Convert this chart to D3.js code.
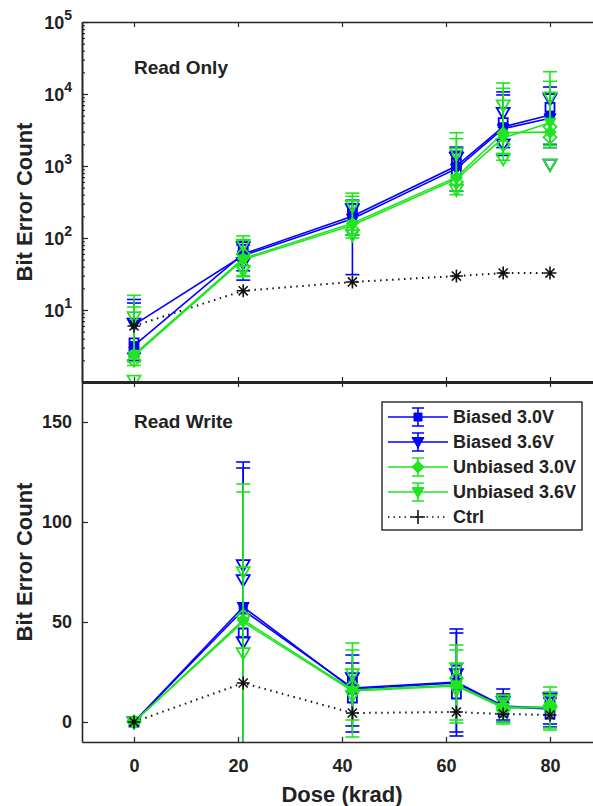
<!DOCTYPE html>
<html>
<head>
<meta charset="utf-8">
<script src="https://cdn.jsdelivr.net/npm/d3@7"></script>
<style>
  body { margin: 0; background: #fff; }
  text { font-family: "Liberation Sans", Arial, sans-serif; font-weight: bold; fill: #222; }
</style>
</head>
<body>
<div id="chart"></div>
<script>
// dose points (slightly offset from nominal, as in the figure)
var doses = [0, 21, 42, 62, 71, 80];
var seriesNames = ["Biased 3.0V", "Biased 3.6V", "Unbiased 3.0V", "Unbiased 3.6V"];
var ctrlName = "Ctrl";
var xTicks = [0, 20, 40, 60, 80];
var roTicks = [10, 100, 1000, 10000, 100000];
var rwTicks = [0, 50, 100, 150];

// Read Only: means, error bar ends, per series
var roMean = [
  [3.2, 60, 200, 1000, 3500, 5100],
  [6.2, 57, 185, 920, 3300, 4600],
  [2.4, 52, 160, 700, 2900, 2950],
  [2.3, 50, 150, 660, 2450, 4000]
];
var roLo = [
  [2.0, 26, 31, 450, 1400, 1800],
  [2.5, 35, 110, 550, 1800, 2000],
  [1.7, 29, 110, 400, 1500, 1950],
  [1.9, 30, 100, 450, 1200, 1800]
];
var roHi = [
  [12.5, 88, 335, 1830, 10700, 12500],
  [14, 80, 300, 1600, 9700, 10000],
  [16, 107, 420, 2900, 14200, 20400],
  [11, 95, 380, 2400, 12000, 15000]
];
var roCtrl = [6.0, 18.5, 24.5, 29.6, 32.6, 32.6];
// individual devices [dose, count]
var roSamples = [
  [[0, 3.5], [0, 2.6], [21, 70], [42, 220], [62, 1100], [62, 800], [71, 4000], [80, 6500]],
  [[0, 6.5], [21, 75], [21, 45], [42, 250], [62, 1300], [71, 5500], [71, 2000], [80, 8500], [80, 1050]],
  [[0, 2.0], [21, 60], [21, 40], [42, 130], [62, 600], [71, 2000], [80, 3500], [80, 2500]],
  [[0, 8], [0, 1.05], [21, 80], [21, 35], [42, 280], [42, 110], [62, 1500], [62, 470], [71, 7000], [71, 1250], [80, 9000], [80, 1050]]
];

// Read Write
var rwMean = [
  [0, 56, 17, 20, 8, 7],
  [0, 57.5, 16.5, 19.5, 7.5, 6.5],
  [0, 51, 16, 18.5, 7.5, 7],
  [0, 50, 15.5, 18, 7, 7.5]
];
var rwLo = [
  [0, -20, -2, -7, 1, -2.5],
  [0, -15, -5, -5, 0, -1],
  [0, -25, -7.5, -0.5, -1, -4],
  [0, -20, 1, 1, 0, -3]
];
var rwHi = [
  [0.5, 130, 33.5, 46.5, 16.5, 13.5],
  [0.5, 127, 29.5, 44.5, 14, 12],
  [0.5, 119, 39.5, 38.5, 12, 17.5],
  [0.5, 115, 36, 36, 11, 15]
];
var rwCtrl = [0, 19.5, 4.5, 5, 4, 3.5];
var rwSamples = [
  [[0, 0], [21, 44.5], [42, 20], [42, 12], [62, 26], [62, 14], [71, 9], [71, 5], [80, 10], [80, 4]],
  [[0, 0], [21, 78.5], [21, 71], [21, 40], [42, 22], [62, 24], [71, 10], [80, 12]],
  [[0, 0], [21, 53], [42, 18], [62, 22], [71, 6], [80, 8]],
  [[0, 0], [21, 75], [21, 34.5], [42, 24], [42, 13], [62, 27], [62, 16], [71, 11], [71, 5], [80, 11], [80, 5]]
];

var colors = ["#0000ff", "#0000ff", "#1fe61f", "#1fe61f"];
var markers = ["square", "tri", "diamond", "tri"];

var width = 593, height = 806;
var svg = d3.select("#chart").append("svg")
  .attr("width", width).attr("height", height);

var x = d3.scaleLinear().domain([-10, 90]).range([82, 602]);
var yTop = d3.scaleLog().domain([1, 1e5]).range([382, 22]);
var yBot = d3.scaleLinear().domain([-10, 170]).range([742, 382]);

function markerPath(type, r) {
  if (type == "square") return "M" + (-r) + "," + (-r) + "H" + r + "V" + r + "H" + (-r) + "Z";
  if (type == "tri") return "M" + (-r) + "," + (-r * 0.75) + "H" + r + "L0," + r + "Z";
  if (type == "diamond") return "M0," + (-r) + "L" + r + ",0L0," + r + "L" + (-r) + ",0Z";
  if (type == "plus") return "M" + (-r) + ",0H" + r + "M0," + (-r) + "V" + r;
  // asterisk
  var a = r * 0.7;
  return "M" + (-r) + ",0H" + r + "M0," + (-r) + "V" + r +
    "M" + (-a) + "," + (-a) + "L" + a + "," + a + "M" + (-a) + "," + a + "L" + a + "," + (-a);
}

var defs = svg.append("defs");
defs.append("clipPath").attr("id", "clipTop").append("rect")
  .attr("x", 82).attr("y", 22).attr("width", 520).attr("height", 360);
defs.append("clipPath").attr("id", "clipBot").append("rect")
  .attr("x", 82).attr("y", 382).attr("width", 520).attr("height", 360);

function drawPanel(clipId, y, mean, lo, hi, ctrl, samples, isLog) {
  var g = svg.append("g").attr("clip-path", "url(#" + clipId + ")");
  var line = d3.line().x(function(d) { return x(d[0]); }).y(function(d) { return y(d[1]); });
  // log axis can't take values <= 0, push those below the panel
  var yLo = function(v) { return isLog ? y(Math.max(v, 0.1)) : y(v); };

  // control first (dotted)
  var cdata = doses.map(function(d, i) { return [d, ctrl[i]]; });
  g.append("path").attr("d", line(cdata))
    .attr("fill", "none").attr("stroke", "#111").attr("stroke-width", 2)
    .attr("stroke-dasharray", "1.5,4.5");

  seriesNames.forEach(function(name, s) {
    var sg = g.append("g");
    var data = doses.map(function(d, i) { return [d, mean[s][i]]; });
    // individual devices, open markers
    sg.selectAll(".samp").data(samples[s]).enter().append("path")
      .attr("transform", function(d) { return "translate(" + x(d[0]) + "," + y(d[1]) + ")"; })
      .attr("d", markerPath(markers[s], markers[s] == "square" ? 4.5 : 6.5))
      .attr("fill", "none").attr("stroke", colors[s]).attr("stroke-width", 1.8);
    // error bars
    var eb = sg.selectAll(".eb").data(doses).enter().append("g");
    eb.append("line")
      .attr("x1", function(d) { return x(d); }).attr("x2", function(d) { return x(d); })
      .attr("y1", function(d, i) { return yLo(lo[s][i]); })
      .attr("y2", function(d, i) { return y(hi[s][i]); });
    eb.append("line")
      .attr("x1", function(d) { return x(d) - 7; }).attr("x2", function(d) { return x(d) + 7; })
      .attr("y1", function(d, i) { return y(hi[s][i]); }).attr("y2", function(d, i) { return y(hi[s][i]); });
    eb.append("line")
      .attr("x1", function(d) { return x(d) - 7; }).attr("x2", function(d) { return x(d) + 7; })
      .attr("y1", function(d, i) { return yLo(lo[s][i]); })
      .attr("y2", function(d, i) { return yLo(lo[s][i]); });
    eb.selectAll("line").attr("stroke", colors[s]).attr("stroke-width", 1.6);
    // mean line
    sg.append("path").attr("d", line(data))
      .attr("fill", "none").attr("stroke", colors[s]).attr("stroke-width", 1.6);
    sg.selectAll(".mk").data(data).enter().append("path")
      .attr("transform", function(d) { return "translate(" + x(d[0]) + "," + y(d[1]) + ")"; })
      .attr("d", markerPath(markers[s], markers[s] == "square" ? 4 : 6))
      .attr("fill", colors[s]).attr("stroke", colors[s]).attr("stroke-width", 1);
  });

  g.selectAll(".cm").data(cdata).enter().append("path")
    .attr("transform", function(d) { return "translate(" + x(d[0]) + "," + y(d[1]) + ")"; })
    .attr("d", markerPath("asterisk", 6.5))
    .attr("fill", "none").attr("stroke", "#111").attr("stroke-width", 1.6);
}

drawPanel("clipTop", yTop, roMean, roLo, roHi, roCtrl, roSamples, true);
drawPanel("clipBot", yBot, rwMean, rwLo, rwHi, rwCtrl, rwSamples, false);

// axes
function styleAxis(sel) {
  sel.select(".domain").attr("stroke", "#262626").attr("stroke-width", 1.6);
  sel.selectAll(".tick line").attr("stroke", "#262626").attr("stroke-width", 1.2);
  sel.selectAll(".tick text").attr("font-size", 18).attr("fill", "#222")
    .attr("font-family", "Liberation Sans, Arial, sans-serif").attr("font-weight", "bold");
}

// top panel frame
svg.append("g").attr("transform", "translate(0,22)")
  .call(d3.axisTop(x).tickValues(xTicks).tickSize(-5).tickSizeOuter(0).tickFormat(""))
  .call(styleAxis);
svg.append("g").attr("transform", "translate(0,382)")
  .call(d3.axisBottom(x).tickValues(xTicks).tickSize(-5).tickSizeOuter(0).tickFormat(""))
  .call(styleAxis);
svg.append("g").attr("transform", "translate(0,382)")
  .call(d3.axisTop(x).tickValues(xTicks).tickSize(-5).tickSizeOuter(0).tickFormat(""))
  .call(styleAxis).select(".domain").attr("stroke-width", 3);

var minor = [];
[1, 10, 100, 1000, 10000].forEach(function(dec) {
  for (var k = 2; k < 10; k++) minor.push(dec * k);
});
svg.append("g").attr("transform", "translate(82,0)")
  .call(d3.axisLeft(yTop).tickValues(minor).tickSize(-3).tickSizeOuter(0).tickFormat(""))
  .call(styleAxis);
svg.append("g").attr("transform", "translate(82,0)")
  .call(d3.axisLeft(yTop).tickValues(roTicks).tickSize(-6).tickSizeOuter(0).tickFormat(""))
  .call(styleAxis);

var expLab = svg.append("g").selectAll("text").data(roTicks).enter().append("text")
  .attr("x", 72).attr("y", function(d) { return yTop(d) + 7; })
  .attr("text-anchor", "end").attr("font-size", 18);
expLab.append("tspan").text("10");
expLab.append("tspan").attr("dy", -9).attr("font-size", 14)
  .text(function(d) { return Math.round(Math.log10(d)); });

// bottom panel
svg.append("g").attr("transform", "translate(0,742)")
  .call(d3.axisBottom(x).tickValues(xTicks).tickSize(-5).tickSizeOuter(0).tickPadding(17))
  .call(styleAxis);
svg.append("g").attr("transform", "translate(82,0)")
  .call(d3.axisLeft(yBot).tickValues(rwTicks).tickSize(-6).tickSizeOuter(0).tickPadding(10))
  .call(styleAxis);

// titles and labels
svg.append("text").attr("x", 134).attr("y", 74).attr("font-size", 19).text("Read Only");
svg.append("text").attr("x", 134).attr("y", 428).attr("font-size", 19).text("Read Write");
svg.append("text").attr("x", 342).attr("y", 802).attr("text-anchor", "middle")
  .attr("font-size", 22).text("Dose (krad)");
[202, 562].forEach(function(cy) {
  svg.append("text").attr("transform", "translate(32," + cy + ") rotate(-90)")
    .attr("text-anchor", "middle").attr("font-size", 22).text("Bit Error Count");
});

// legend
var lg = svg.append("g");
lg.append("rect").attr("x", 382).attr("y", 402).attr("width", 200).attr("height", 128)
  .attr("fill", "#fff").attr("stroke", "#262626").attr("stroke-width", 1.4);
var legItems = seriesNames.concat([ctrlName]);
var li = lg.selectAll(".li").data(legItems).enter().append("g")
  .attr("transform", function(d, i) { return "translate(0," + (417 + i * 25) + ")"; });
li.append("line").attr("x1", 388).attr("x2", 448)
  .attr("stroke", function(d, i) { return i < 4 ? colors[i] : "#111"; })
  .attr("stroke-width", function(d, i) { return i < 4 ? 1.6 : 1.4; })
  .attr("stroke-dasharray", function(d, i) { return i < 4 ? null : "1.5,4"; });
li.filter(function(d, i) { return i < 4; }).each(function(d, i) {
  var e = d3.select(this);
  e.append("path").attr("d", "M412,-9H424M418,-9V9M412,9H424")
    .attr("stroke", colors[i]).attr("stroke-width", 1.6).attr("fill", "none");
  e.append("path").attr("transform", "translate(418,0)")
    .attr("d", markerPath(markers[i], markers[i] == "square" ? 4 : 6))
    .attr("fill", colors[i]).attr("stroke", colors[i]);
});
li.filter(function(d, i) { return i == 4; }).append("path")
  .attr("transform", "translate(418,0)").attr("d", markerPath("plus", 7))
  .attr("stroke", "#111").attr("stroke-width", 1.6);
li.append("text").attr("x", 453).attr("y", 6).attr("font-size", 18).text(function(d) { return d; });
</script>
</body>
</html>
